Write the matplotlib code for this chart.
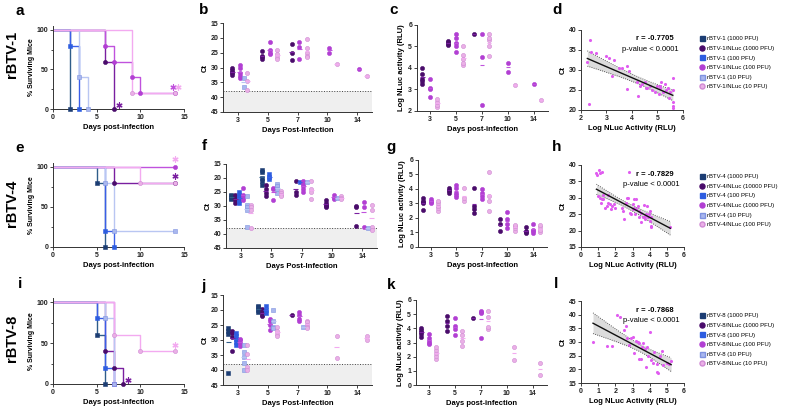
import matplotlib
matplotlib.use("Agg")
import matplotlib.pyplot as plt
from matplotlib.lines import Line2D
import numpy as np

plt.rcParams['font.family'] = ['Liberation Sans', 'DejaVu Sans']
plt.rcParams['font.weight'] = 'bold'
plt.rcParams['axes.labelweight'] = 'bold'

W, H = 785, 408
days = [3, 5, 7, 10, 14]

# series order: virus 1000, NLuc high, virus 100, NLuc mid, virus 10, NLuc low
markers = ['s', 'o', 's', 'o', 's', 'o']
face_cols = ['#1c3d73', '#4a0c6b', '#2d5de0', '#b23fd3', '#a9b7ee', '#eab0e6']
edge_cols = ['#1c3d73', '#4a0c6b', '#2d5de0', '#b23fd3', '#7f93e0', '#d08ad4']
line_cols = ['#2f5d8a', '#7a1fa0', '#3a5ee8', '#c052dd', '#b9c6f2', '#f3aaf0']

labels1 = ['rBTV-1 (1000 PFU)', 'rBTV-1/NLuc (1000 PFU)', 'rBTV-1 (100 PFU)',
           'rBTV-1/NLuc (100 PFU)', 'rBTV-1 (10 PFU)', 'rBTV-1/NLuc (10 PFU)']
labels4 = ['rBTV-4 (1000 PFU)', 'rBTV-4/NLuc (10000 PFU)', 'rBTV-4 (100 PFU)',
           'rBTV-4/NLuc (1000 PFU)', 'rBTV-4 (10 PFU)', 'rBTV-4/NLuc (100 PFU)']
labels8 = ['rBTV-8 (1000 PFU)', 'rBTV-8/NLuc (1000 PFU)', 'rBTV-8 (100 PFU)',
           'rBTV-8/NLuc (100 PFU)', 'rBTV-8 (10 PFU)', 'rBTV-8/NLuc (10 PFU)']

# ---- survival (a, e, i): event days and % surviving ----
a_times = [[0, 2], [0, 6, 7], [0, 2, 3], [0, 6, 7, 9, 10, 14], [0, 3, 4], [0, 9, 14]]
a_surv = [[100, 0], [100, 60, 0], [100, 80, 0], [100, 80, 60, 40, 20, 20], [100, 40, 0], [100, 20, 20]]
a_stars = [(1, 0.6, 5), (3, -0.3, 8), (5, 0.3, 8)]

e_times = [[0, 5, 6], [0, 7, 14], [0, 6, 7], [0, 14], [0, 6, 7, 14], [0, 10, 14]]
e_surv = [[100, 80, 0], [100, 80, 80], [100, 20, 0], [100, 100], [100, 80, 20, 20], [100, 80, 80]]
e_stars = [(1, 0, 9), (5, 0, 30)]

i_times = [[0, 5, 6], [0, 6, 7, 8], [0, 5, 6, 7], [0, 7], [0, 6, 7], [0, 7, 10, 14]]
i_surv = [[100, 60, 0], [100, 40, 20, 0], [100, 80, 20, 0], [100, 0], [100, 80, 0], [100, 60, 40, 40]]
i_stars = [(1, 0.6, 5), (5, 0, 8)]

# ---- Ct per day (3, 5, 7, 10, 14) ----
b_navy = [[], [], [], [], []]
b_dpur = [[30, 31, 31.5, 32, 32.5], [24.5, 26, 26.5, 27], [22, 25, 27.5], [], []]
b_blue = [[], [], [], [], []]
b_mpur = [[29, 30, 32, 33, 33.5], [21.5, 24, 25, 25.5], [21.5, 23, 27], [23.5, 25], [30.5]]
b_lblue = [[33.5, 36.5], [], [], [], []]
b_pink = [[32, 34.5, 37.5], [24, 25.5, 26.5, 27], [20.5, 23.5, 25, 26, 26.5], [28.7], [33]]

f_navy = [[26, 26.5, 27, 27.5], [17, 18, 20, 21, 22.5], [], [], []]
f_dpur = [[26, 27, 28, 29], [22.5, 24, 25.5, 26.5], [21, 25, 26], [28, 29, 29.5, 30, 30.5], [30, 30.5, 37]]
f_blue = [[25, 26, 27, 28, 29], [18.5, 19.5, 20.5], [21.5], [], []]
f_mpur = [[23.5, 26, 27, 28], [23.5, 24, 28], [21, 22, 23, 24, 25], [26, 27, 27.5], [28.5, 30.5, 37.5]]
f_lblue = [[26.5, 29.5, 30.5, 31.5, 37.5], [22, 23, 24, 25.5], [21.5], [27], [38]]
f_pink = [[29.5, 30.5, 31.5, 38], [24.5, 25.5, 26, 26.5], [21, 24, 25, 27.5], [26.5, 27, 27.5], [29.5, 31.5, 37.5, 38.5]]

j_navy = [[26, 27, 28, 41], [18.5, 19, 20, 20.5], [], [], []]
j_dpur = [[27, 27.5, 29, 33.5], [19.5, 20.5, 21.5, 22], [21.5], [], []]
j_blue = [[27.5, 28.5, 29.5, 30.5, 31.5], [18.5, 20, 21], [], [], []]
j_mpur = [[29.5, 30, 31, 32], [23, 23.5, 25, 26.5], [20.5, 21.5, 23, 23.5], [], []]
j_lblue = [[31.5, 34, 35.5, 37.5, 40], [20, 23.5, 25.5, 26], [25.5], [], []]
j_pink = [[31.5, 34.5, 39, 40], [25.5, 27, 28, 28.5], [23.5, 24, 25, 25.5, 26], [28.5, 36], [28.5, 30]]

# ---- Log NLuc per day ----
c_dpur = [[3.25, 3.4, 3.5, 3.7, 4.0], [5.05, 5.1, 5.2, 5.25], [5.6], [], []]
c_mpur = [[2.65, 3.0, 3.05, 3.5], [4.75, 5.0, 5.15, 5.4, 5.6], [2.3, 4.5, 5.6], [3.8, 4.25], [3.25]]
c_pink = [[2.2, 2.3, 2.4, 2.55], [4.15, 4.25, 4.4, 4.6, 5.0], [4.55, 5.0, 5.3, 5.4, 5.6], [3.2], [2.5]]

g_dpur = [[2.55, 3.0, 3.1, 3.2, 3.35], [3.75, 3.85, 3.95, 4.05], [2.35, 2.65, 2.85, 4.05], [1.1, 1.6, 1.95], [0.95, 1.05, 1.1, 1.4]]
g_mpur = [[3.0, 3.1, 3.2, 3.3], [3.45, 3.6, 3.75, 4.1, 4.3], [3.3, 3.5, 3.7, 4.0], [1.3, 1.6, 1.9, 2.4], [0.95, 1.1, 1.2, 1.6]]
g_pink = [[2.5, 2.7, 2.8, 3.0, 3.2], [3.2, 3.35, 4.05], [2.45, 3.2, 3.55, 5.2], [1.1, 1.3, 1.45, 1.55], [1.05, 1.2, 1.35, 1.5]]

k_dpur = [[3.4, 3.6, 3.75, 3.9, 4.0], [3.8, 4.2, 4.5, 4.9], [4.7], [], []]
k_mpur = [[2.9, 3.0, 3.1, 3.3, 3.6], [3.5, 3.95, 4.2, 4.7], [3.3, 5.05, 5.15, 5.25], [], []]
k_pink = [[1.85, 2.05, 2.25, 2.5, 2.65], [2.75, 3.1, 3.5, 3.8], [3.95, 4.1, 4.8, 5.2], [1.8, 2.65], [0.7, 1.55]]

# ---- correlation Ct vs Log NLuc ----
d_x = [2.25, 2.3, 2.35, 2.4, 2.6, 3.0, 3.1, 3.2, 3.3, 3.5, 3.6, 3.8, 3.8, 3.9, 4.2, 4.25, 4.3, 4.4,
       4.5, 4.55, 4.6, 4.7, 4.8, 4.9, 5.0, 5.05, 5.1, 5.1, 5.15, 5.2, 5.3, 5.35, 5.4, 5.45, 5.5,
       5.6, 5.6, 5.6, 5.6, 5.6]
d_y = [32, 21.5, 37.5, 34.5, 34.2, 33.5, 33, 28.5, 32.5, 30.5, 30.5, 31, 25.2, 29.8, 27, 23.5, 26, 26.5,
       27, 25.5, 25.5, 26, 25, 24.5, 26, 24, 25.5, 26, 27, 24.5, 26.5, 25, 25.5, 23, 24.5,
       28, 25, 22, 21, 20.5]

h_x = [0.9, 0.95, 1.05, 1.1, 1.2, 1.0, 1.1, 1.15, 1.2, 1.3, 1.3, 1.4, 1.5, 1.55, 1.6, 1.7, 1.75, 1.8,
       1.9, 2.0, 2.4, 2.45, 2.5, 2.6, 2.7, 2.75, 2.8, 2.85, 2.9, 3.0, 3.05, 3.1, 3.1, 3.15, 3.2, 3.2,
       3.3, 3.35, 3.4, 3.5, 3.5, 3.6, 3.65, 3.7, 3.75, 3.8, 3.85, 3.9, 3.95, 4.0, 4.0, 4.05, 4.1,
       4.1, 5.2]
h_y = [37.5, 37, 38.5, 37.5, 37.8, 30.5, 30, 28.5, 29.5, 31, 29.5, 27, 27.5, 31, 28.5, 28, 26.5, 27.5,
       28, 27, 27, 26, 23.5, 28.5, 29.8, 30, 38, 25.5, 25, 26.5, 28, 29.5, 27, 25, 26.5, 29.5,
       27.5, 24, 26, 25.5, 22.5, 24, 27.8, 24.5, 23.5, 25, 27.5, 24, 25, 26, 23, 21.5, 21,
       24, 21]

l_x = [0.7, 1.5, 1.8, 2.1, 2.3, 2.5, 2.6, 2.7, 2.8, 2.9, 3.0, 3.1, 3.2, 3.3, 3.35, 3.4, 3.5, 3.55,
       3.6, 3.75, 3.8, 3.85, 3.9, 4.0, 4.1, 4.2, 4.25, 4.4, 4.45, 4.5, 4.6, 4.7, 4.8, 5.0, 5.1, 5.25]
l_y = [30, 28.5, 28.5, 40, 39.3, 34.5, 36, 31.5, 29, 31.5, 32, 25.8, 30.5, 30, 23.8, 29.5, 23.8, 28,
       29.8, 27.5, 20.8, 28.2, 24.8, 33.5, 23.5, 22.5, 26.5, 22, 19.2, 18.8, 25, 26.8, 21.5, 22.5, 21.8, 23]

fig = plt.figure(figsize=(W / 100, H / 100), dpi=100)


def px_axes(l, t, r, b):
    return fig.add_axes([l / W, 1 - b / H, (r - l) / W, (b - t) / H])


def style(ax):
    for s in ['top', 'right']:
        ax.spines[s].set_visible(False)
    for s in ['left', 'bottom']:
        ax.spines[s].set_linewidth(0.7)
        ax.spines[s].set_color('#333333')
    ax.tick_params(labelsize=5, width=0.6, length=2, pad=1.5, colors='#222222')
    ax.tick_params(which='minor', width=0.5, length=1.3)


def survival(ax, times, survs, stars):
    for i, (t, s) in enumerate(zip(times, survs)):
        ax.step(t, s, where='post', color=line_cols[i], lw=1.0, zorder=2)
        ax.scatter(t[1:], s[1:], marker=markers[i], s=9, facecolor=face_cols[i],
                   edgecolor=edge_cols[i], lw=0.4, zorder=3, clip_on=False)
    for i, dx, dy in stars:
        ax.scatter(times[i][-1] + dx, survs[i][-1] + dy, marker=(6, 2, 0), s=14,
                   color=line_cols[i], lw=0.9, zorder=4, clip_on=False)
    ax.set_xlim(0, 15)
    ax.set_ylim(0, 105)
    ax.set_xticks([0, 5, 10, 15])
    ax.set_yticks([0, 50, 100])
    ax.set_yticks([25, 75], minor=True)
    ax.set_xlabel('Days post-infection', fontsize=5.5, labelpad=2)
    ax.set_ylabel('% Surviving Mice', fontsize=5, labelpad=1)
    style(ax)


def grouped(ax, series, idxs, offsets):
    for k, (data, i) in enumerate(zip(series, idxs)):
        for g, vals in enumerate(data):
            if not vals:
                continue
            x = g + offsets[k]
            ax.scatter([x] * len(vals), vals, marker=markers[i], s=9, facecolor=face_cols[i],
                       edgecolor=edge_cols[i], lw=0.4, zorder=3, clip_on=False)
            ax.hlines(np.mean(vals), x - 0.08, x + 0.08, color=line_cols[i], lw=0.8, zorder=4)
    ax.set_xticks(range(len(days)))
    ax.set_xticklabels([str(d) for d in days])
    style(ax)


def ct_panel(ax, series):
    ax.axhspan(38, 45, color='#efefef', zorder=0, lw=0)
    ax.axhline(38, color='#444444', ls=':', lw=0.7, zorder=1)
    grouped(ax, series, range(6), np.linspace(-0.32, 0.32, 6))
    ax.set_xlim(-0.5, 4.5)
    ax.set_ylim(45, 15)
    ax.set_yticks(range(15, 46, 5))
    ax.set_ylabel('Ct', fontsize=5.5, labelpad=1)
    ax.set_xlabel('Days Post-Infection', fontsize=5.5, labelpad=2)


def nluc_panel(ax, series, ymin):
    grouped(ax, series, [1, 3, 5], [-0.29, 0.0, 0.29])
    ax.set_xlim(-0.5, 4.55)
    ax.set_ylim(ymin, 6)
    ax.set_yticks(range(ymin, 7))
    ax.set_ylabel('Log NLuc activity (RLU)', fontsize=5.5, labelpad=2)
    ax.set_xlabel('Days post-infection', fontsize=5.5, labelpad=2)


def corr_panel(ax, x, y, r_txt, ylim, yticks):
    x = np.array(x)
    y = np.array(y)
    slope, icpt = np.polyfit(x, y, 1)
    xs = np.linspace(x.min(), x.max(), 60)
    fit = slope * xs + icpt
    resid = y - (slope * x + icpt)
    n = len(x)
    se = np.sqrt(np.sum(resid ** 2) / (n - 2))
    half = 2.0 * se * np.sqrt(1 / n + (xs - x.mean()) ** 2 / np.sum((x - x.mean()) ** 2))
    ax.fill_between(xs, fit - half, fit + half, color='#dcdcdc', lw=0, zorder=1)
    ax.plot(xs, fit - half, color='#333333', ls=':', lw=0.6, zorder=2)
    ax.plot(xs, fit + half, color='#333333', ls=':', lw=0.6, zorder=2)
    ax.scatter(x, y, s=5, color='#e05cf0', lw=0, zorder=3, clip_on=False)
    ax.plot(xs, fit, color='#111111', lw=1.0, zorder=4)
    ax.text(0.72, 0.87, r_txt, transform=ax.transAxes, fontsize=5.5, ha='center')
    ax.text(0.68, 0.74, 'p-value < 0.0001', transform=ax.transAxes, fontsize=5.5,
            ha='center', fontweight='normal')
    ax.set_ylim(*ylim)
    ax.set_yticks(yticks)
    ax.set_ylabel('Ct', fontsize=5.5, labelpad=1)
    ax.set_xlabel('Log NLuc Activity (RLU)', fontsize=5.5, labelpad=2)
    style(ax)


def legend(labels, top_px):
    handles = [Line2D([], [], marker=markers[i], color='none', markerfacecolor=face_cols[i],
                      markeredgecolor=edge_cols[i], markersize=3.6, label=labels[i])
               for i in range(6)]
    fig.legend(handles=handles, loc='upper left', bbox_to_anchor=(699 / W, 1 - top_px / H),
               frameon=False, prop={'size': 4.3, 'weight': 'normal'}, labelspacing=0.75,
               handlelength=0.9, handletextpad=0.45, borderaxespad=0, borderpad=0)


# row 1: rBTV-1
survival(px_axes(53, 26, 184, 109), a_times, a_surv, a_stars)
ct_panel(px_axes(223, 23, 372, 112), [b_navy, b_dpur, b_blue, b_mpur, b_lblue, b_pink])
nluc_panel(px_axes(417, 25, 548, 111), [c_dpur, c_mpur, c_pink], 2)
axd = px_axes(581, 30, 683, 110)
corr_panel(axd, d_x, d_y, 'r = -0.7705', (20, 40), range(20, 41, 5))
axd.set_xlim(2, 6)
axd.set_xticks(range(2, 7))
legend(labels1, 36)

# row 2: rBTV-4
survival(px_axes(53, 163, 184, 247), e_times, e_surv, e_stars)
ct_panel(px_axes(226, 164, 377, 248), [f_navy, f_dpur, f_blue, f_mpur, f_lblue, f_pink])
nluc_panel(px_axes(418, 160, 547, 247), [g_dpur, g_mpur, g_pink], 0)
axh = px_axes(581, 165, 684, 247)
corr_panel(axh, h_x, h_y, 'r = -0.7829', (15, 40), range(15, 41, 5))
axh.set_xlim(0, 6)
axh.set_xticks(range(0, 7))
legend(labels4, 174)

# row 3: rBTV-8
survival(px_axes(53, 298, 184, 384), i_times, i_surv, i_stars)
ct_panel(px_axes(223, 295, 372, 385), [j_navy, j_dpur, j_blue, j_mpur, j_lblue, j_pink])
nluc_panel(px_axes(416, 300, 547, 385), [k_dpur, k_mpur, k_pink], 0)
axl = px_axes(581, 301, 684, 383)
corr_panel(axl, l_x, l_y, 'r = -0.7868', (15, 45), range(15, 46, 5))
axl.set_xlim(0, 6)
axl.set_xticks(range(0, 7))
legend(labels8, 313)

# panel letters and row titles
letters = [('a', 20, 11), ('b', 204, 10), ('c', 394, 10), ('d', 557, 10),
           ('e', 20, 148), ('f', 204, 146), ('g', 391, 147), ('h', 557, 147),
           ('i', 20, 284), ('j', 203, 286), ('k', 391, 285), ('l', 556, 284)]
for txt, x, y in letters:
    fig.text(x / W, 1 - y / H, txt, fontsize=11, fontweight='bold', ha='center', va='center')

for txt, y in [('rBTV-1', 54), ('rBTV-4', 203), ('rBTV-8', 338)]:
    fig.text(12 / W, 1 - y / H, txt, fontsize=10.5, fontweight='bold', rotation=90,
             ha='center', va='center')

fig.savefig('out.png', dpi=100)
